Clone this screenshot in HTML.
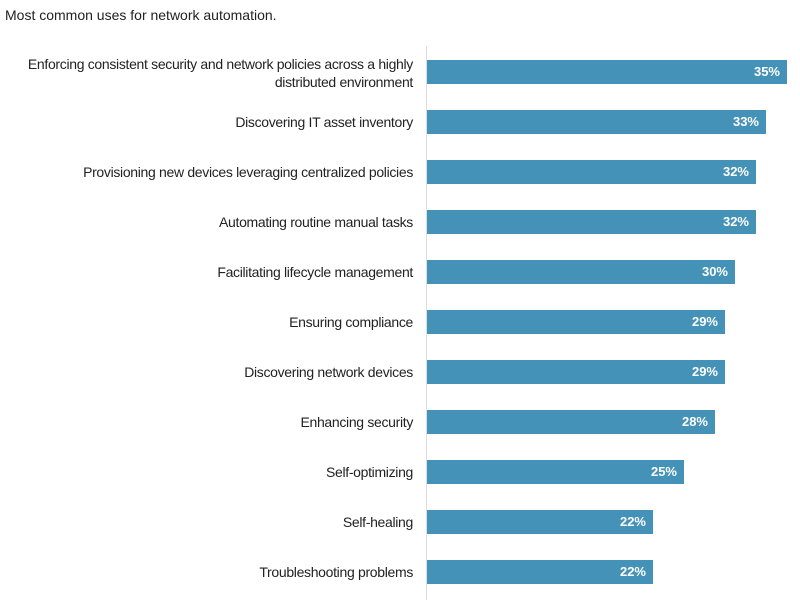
<!DOCTYPE html><html><head><style>
body{margin:0;width:800px;height:608px;background:#fff;font-family:"Liberation Sans",sans-serif;position:relative;overflow:hidden;color:#222}
.t{position:absolute;left:5px;top:7px;font-size:14px}
.ax{position:absolute;left:426px;top:46px;width:1px;height:554px;background:#ddd}
.l{position:absolute;right:387px;font-size:14px;letter-spacing:-0.32px;text-align:right;line-height:18px}
.b{position:absolute;left:427px;height:24px;background:#4592b8;color:#fff;font-weight:bold;font-size:13px;line-height:24px;text-align:right;box-sizing:border-box;padding-right:7px}
</style></head><body>
<div class="t">Most common uses for network automation.</div>
<div class="ax"></div>
<div class="l" style="top:55px">Enforcing consistent security and network policies across a highly<br>distributed environment</div>
<div class="b" style="top:60px;width:360px">35%</div>
<div class="l" style="top:113px">Discovering IT asset inventory</div>
<div class="b" style="top:110px;width:339px">33%</div>
<div class="l" style="top:163px">Provisioning new devices leveraging centralized policies</div>
<div class="b" style="top:160px;width:329px">32%</div>
<div class="l" style="top:213px">Automating routine manual tasks</div>
<div class="b" style="top:210px;width:329px">32%</div>
<div class="l" style="top:263px">Facilitating lifecycle management</div>
<div class="b" style="top:260px;width:308px">30%</div>
<div class="l" style="top:313px">Ensuring compliance</div>
<div class="b" style="top:310px;width:298px">29%</div>
<div class="l" style="top:363px">Discovering network devices</div>
<div class="b" style="top:360px;width:298px">29%</div>
<div class="l" style="top:413px">Enhancing security</div>
<div class="b" style="top:410px;width:288px">28%</div>
<div class="l" style="top:463px">Self-optimizing</div>
<div class="b" style="top:460px;width:257px">25%</div>
<div class="l" style="top:513px">Self-healing</div>
<div class="b" style="top:510px;width:226px">22%</div>
<div class="l" style="top:563px">Troubleshooting problems</div>
<div class="b" style="top:560px;width:226px">22%</div>
</body></html>
